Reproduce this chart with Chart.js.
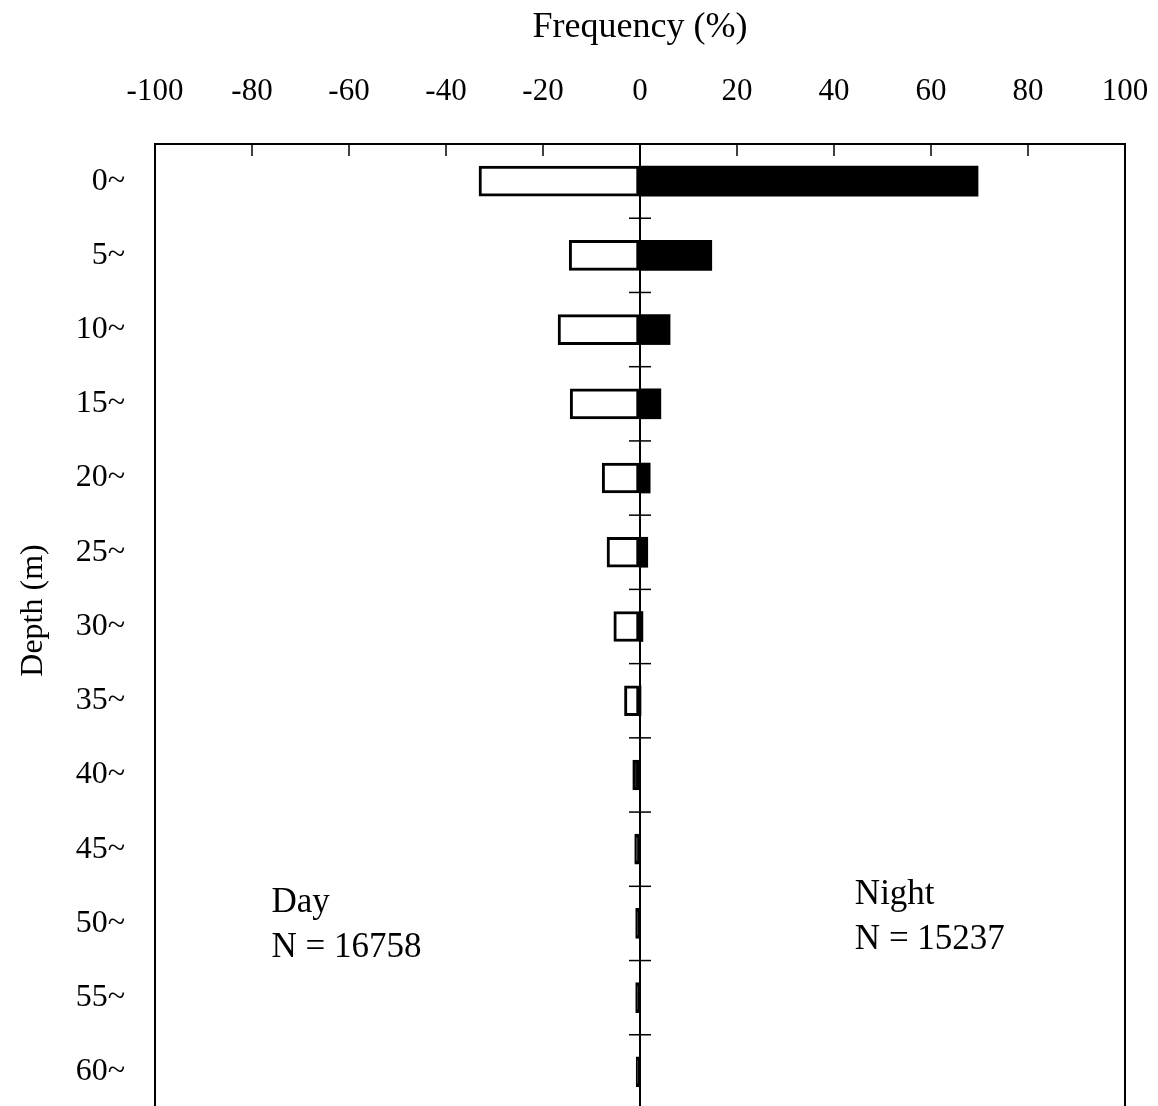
<!DOCTYPE html>
<html>
<head>
<meta charset="utf-8">
<script src="https://cdn.jsdelivr.net/npm/chart.js@4/dist/chart.umd.min.js"></script>
<style>
  html, body { margin: 0; padding: 0; background: #fff; overflow: hidden; }
  canvas { display: block; }
</style>
</head>
<body>
<canvas id="depthChart" width="1158" height="1110"></canvas>
<script>
// depth classes (m)
const depthLabels = ['0~', '5~', '10~', '15~', '20~', '25~', '30~', '35~', '40~', '45~', '50~', '55~', '60~'];
// frequency (%), day drawn to the left as negative values
const dayValues = [-33.2, -14.6, -16.9, -14.4, -7.8, -6.8, -5.4, -3.2, -1.5, -1.1, -0.9, -0.9, -0.8];
const nightValues = [69.7, 14.8, 6.2, 4.3, 2.1, 1.6, 0.6, 0.2, 0, 0, 0, 0, 0];
const freqTicks = [-100, -80, -60, -40, -20, 0, 20, 40, 60, 80, 100];
const dayNote = ['Day', 'N = 16758'];
const nightNote = ['Night', 'N = 15237'];

const serif = "'Liberation Serif', 'Times New Roman', serif";

// short ticks across the zero line at the class boundaries + the N notes
const zeroLineExtras = {
  id: 'zeroLineExtras',
  afterDraw(chart, args, opts) {
    const { ctx } = chart;
    const xs = chart.scales.x;
    const ys = chart.scales.y;
    const x0 = xs.getPixelForValue(0);
    ctx.save();
    ctx.strokeStyle = '#000';
    ctx.lineWidth = 1.5;
    for (let i = 0; i < depthLabels.length; i++) {
      const y = ys.getPixelForValue(i + 0.5);
      ctx.beginPath();
      ctx.moveTo(x0 - 11, y);
      ctx.lineTo(x0 + 11, y);
      ctx.stroke();
    }
    ctx.fillStyle = '#000';
    ctx.font = '35px ' + serif;
    ctx.textAlign = 'left';
    ctx.textBaseline = 'middle';
    opts.notes.forEach(n => {
      n.lines.forEach((t, k) => {
        ctx.fillText(t, xs.getPixelForValue(n.x), ys.getPixelForValue(n.y) + k * 45);
      });
    });
    ctx.restore();
  }
};

new Chart(document.getElementById('depthChart'), {
  type: 'bar',
  data: {
    labels: depthLabels,
    datasets: [
      {
        label: 'Day',
        data: dayValues,
        // very thin boxes print as solid black in the original
        backgroundColor: ctx => (Math.abs(ctx.raw) < 1.7 ? '#000' : '#fff'),
        borderColor: '#000',
        borderWidth: 3,
        borderSkipped: false,
        barThickness: 30,
        grouped: false
      },
      {
        label: 'Night',
        data: nightValues,
        backgroundColor: '#000',
        borderWidth: 0,
        barThickness: 30,
        grouped: false
      }
    ]
  },
  options: {
    indexAxis: 'y',
    responsive: false,
    animation: false,
    layout: { padding: { top: 0, left: 0, right: 33, bottom: 1 } },
    plugins: {
      legend: { display: false },
      tooltip: { enabled: false },
      zeroLineExtras: {
        notes: [
          { lines: dayNote, x: -76, y: 9.72 },
          { lines: nightNote, x: 44.3, y: 9.62 }
        ]
      }
    },
    scales: {
      x: {
        type: 'linear',
        position: 'top',
        min: -100,
        max: 100,
        z: 1,
        afterBuildTicks: scale => {
          scale.ticks = freqTicks.map(v => ({ value: v }));
        },
        afterFit: scale => {
          scale.height = 144;
          scale.paddingLeft = 0;
          scale.paddingRight = 0;
        },
        title: {
          display: true,
          text: 'Frequency (%)',
          color: '#000',
          font: { family: serif, size: 36 },
          padding: { top: 6, bottom: 0 }
        },
        ticks: {
          color: '#000',
          font: { family: serif, size: 31 },
          padding: 46,
          maxRotation: 0
        },
        grid: {
          color: ctx => (ctx.tick && ctx.tick.value === 0 ? '#000' : 'rgba(0,0,0,0)'),
          lineWidth: 2,
          tickColor: '#000',
          tickWidth: 1.5,
          tickLength: -12
        },
        border: { display: true, color: '#000', width: 2 }
      },
      y: {
        type: 'category',
        position: 'left',
        afterFit: scale => {
          scale.width = 155;
          scale.paddingTop = 0;
          scale.paddingBottom = 0;
        },
        title: {
          display: true,
          text: '    Depth (m)',
          color: '#000',
          font: { family: serif, size: 32 },
          padding: { top: 14, bottom: 0 }
        },
        ticks: {
          color: '#000',
          font: { family: serif, size: 32 },
          padding: 30
        },
        grid: { display: false, drawTicks: false },
        border: { display: true, color: '#000', width: 2 }
      },
      yRight: {
        type: 'category',
        position: 'right',
        afterFit: scale => {
          scale.width = 0;
          scale.paddingTop = 0;
          scale.paddingBottom = 0;
        },
        ticks: { display: false },
        grid: { display: false, drawTicks: false },
        border: { display: true, color: '#000', width: 2 }
      }
    }
  },
  plugins: [zeroLineExtras]
});
</script>
</body>
</html>
